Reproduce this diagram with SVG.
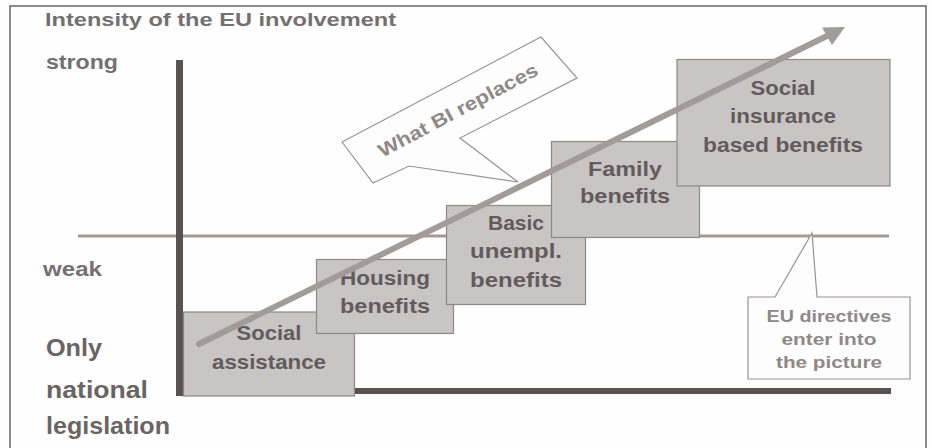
<svg xmlns="http://www.w3.org/2000/svg" width="932" height="448" viewBox="0 0 932 448">
<defs>
<style>
text{font-family:"Liberation Sans",Arial,sans-serif;font-weight:bold;}
.lbl{fill:#747070;font-size:20px;}
.big{fill:#6a6464;font-size:23px;}
.box rect{fill:#c9c5c5;stroke:#8e8888;stroke-width:1.2;}
.box text{fill:#635b5b;font-size:21px;text-anchor:middle;}
.call path{fill:#fdfdfd;stroke:#9a9292;stroke-width:1.2;}
.call text{fill:#908888;font-size:17px;text-anchor:middle;}
</style>
</defs>
<rect x="0" y="0" width="932" height="448" fill="#fefefe"/>
<path d="M10,448 V6 H926 V448" fill="none" stroke="#666" stroke-width="1.5"/>
<g id="axis-labels">
<text class="lbl" x="45" y="26" font-size="18" style="font-size:18px" textLength="351" lengthAdjust="spacingAndGlyphs">Intensity of the EU involvement</text>
<text class="lbl" x="46" y="69" textLength="72" lengthAdjust="spacingAndGlyphs">strong</text>
<text class="lbl" x="43" y="276" textLength="59" lengthAdjust="spacingAndGlyphs">weak</text>
<text class="big" x="46" y="356" textLength="56" lengthAdjust="spacingAndGlyphs">Only</text>
<text class="big" x="46" y="398" textLength="102" lengthAdjust="spacingAndGlyphs">national</text>
<text class="big" x="46" y="434" textLength="124" lengthAdjust="spacingAndGlyphs">legislation</text>
</g>
<g id="axes">
<line x1="78" y1="236" x2="889" y2="236" stroke="#a29a9a" stroke-width="3"/>
<line x1="179.5" y1="60" x2="179.5" y2="396" stroke="#5a5252" stroke-width="7"/>
<line x1="354" y1="391" x2="891" y2="391" stroke="#5a5252" stroke-width="6"/>
</g>
<g id="social-assistance" class="box">
<rect x="183.5" y="312" width="171" height="84"/>
<text x="269" y="340" textLength="65" lengthAdjust="spacingAndGlyphs">Social</text>
<text x="269" y="369" textLength="114" lengthAdjust="spacingAndGlyphs">assistance</text>
</g>
<g id="housing-benefits" class="box">
<rect x="316.5" y="259.5" width="137" height="74"/>
<text x="385" y="285" textLength="90" lengthAdjust="spacingAndGlyphs">Housing</text>
<text x="385" y="313" textLength="90" lengthAdjust="spacingAndGlyphs">benefits</text>
</g>
<g id="basic-unempl-benefits" class="box">
<rect x="446.5" y="205.5" width="139" height="99"/>
<text x="516" y="230" textLength="56" lengthAdjust="spacingAndGlyphs">Basic</text>
<text x="516" y="258" textLength="92" lengthAdjust="spacingAndGlyphs">unempl.</text>
<text x="516" y="287" textLength="92" lengthAdjust="spacingAndGlyphs">benefits</text>
</g>
<g id="family-benefits" class="box">
<rect x="551.5" y="141.5" width="148" height="96"/>
<text x="625" y="176" textLength="74" lengthAdjust="spacingAndGlyphs">Family</text>
<text x="625" y="203" textLength="90" lengthAdjust="spacingAndGlyphs">benefits</text>
</g>
<g id="social-insurance-benefits" class="box">
<rect x="677" y="59.5" width="213" height="126.5"/>
<text x="783" y="95" textLength="65" lengthAdjust="spacingAndGlyphs">Social</text>
<text x="783" y="123" textLength="106" lengthAdjust="spacingAndGlyphs">insurance</text>
<text x="783" y="152" textLength="160" lengthAdjust="spacingAndGlyphs">based benefits</text>
</g>
<g id="connectors">
<line x1="199" y1="344" x2="828" y2="35.5" stroke="#a39b9b" stroke-width="6" stroke-linecap="round"/>
<polygon points="845,27 822,27.5 832,45" fill="#a39b9b"/>
</g>
<g id="what-bi-replaces" class="call">
<path d="M342,142 L541,37 L577,78 L460,138 L518,182 L409,166 L373,183 Z"/>
<text transform="translate(461,116) rotate(-28)" x="0" y="0" style="font-size:19px" textLength="178" lengthAdjust="spacingAndGlyphs">What BI replaces</text>
</g>
<g id="eu-directives" class="call">
<path d="M748,297 L775,297 L812,233 L817,297 L910,297 L910,379 L748,379 Z"/>
<text x="829" y="322" textLength="125" lengthAdjust="spacingAndGlyphs">EU directives</text>
<text x="829" y="345" textLength="95" lengthAdjust="spacingAndGlyphs">enter into</text>
<text x="829" y="368" textLength="106" lengthAdjust="spacingAndGlyphs">the picture</text>
</g>
</svg>
